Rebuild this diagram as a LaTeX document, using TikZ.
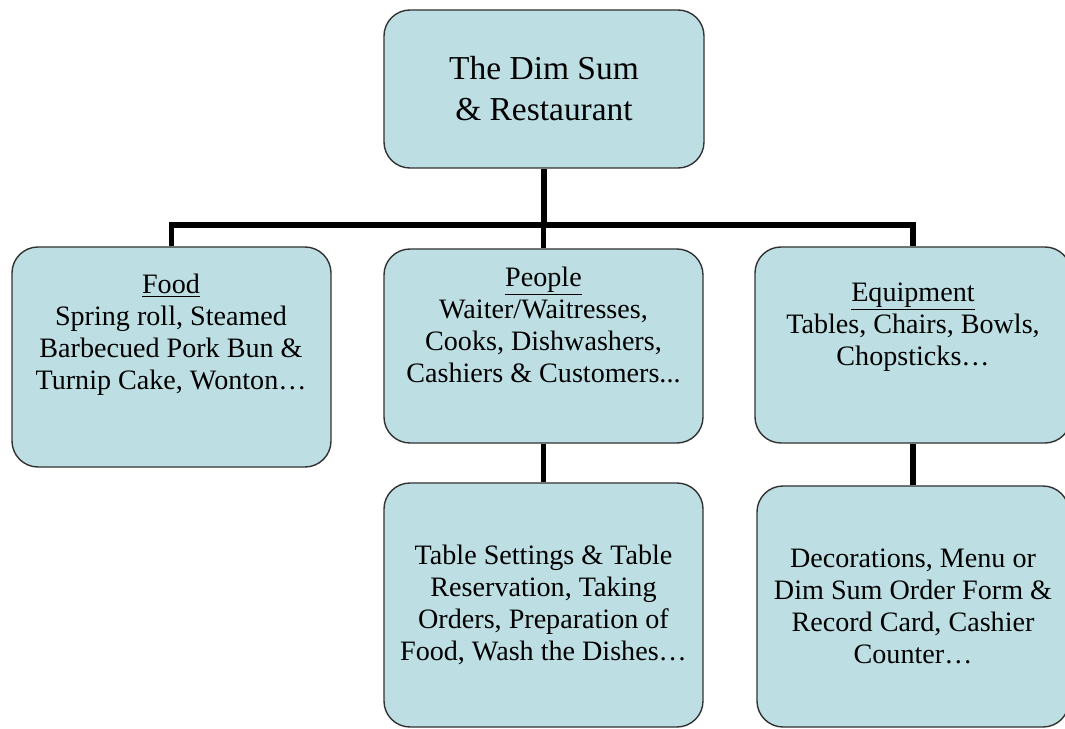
\documentclass[tikz,border=0pt]{standalone}
\usepackage{fontspec}
\setmainfont{Liberation Serif}
\usetikzlibrary{backgrounds}
\definecolor{cardblue}{RGB}{189,223,227}
\definecolor{cardline}{RGB}{50,50,50}
\tikzset{
  card/.style={draw=cardline, line width=1pt, fill=cardblue, rounded corners=6.5mm, inner sep=0pt},
  cardtext/.style={align=center, inner sep=0pt, font=\fontsize{20}{22.8}\selectfont},
  link/.style={line width=3.6pt}
}

\begin{document}
\begin{tikzpicture}[x=0.25mm,y=-0.25mm]
			\useasboundingbox (0,0) rectangle (1065,729);
			% boxes
			\node [card, minimum width=80mm, minimum height=39.5mm] (top) at (544,89) {};
			\node [card, minimum width=79.75mm, minimum height=55mm] (food) at (171.5,357) {};
			\node [card, minimum width=79.75mm, minimum height=48.5mm] (people) at (543.5,346) {};
			\node [card, minimum width=79mm, minimum height=49mm] (equip) at (913,345) {};
			\node [card, minimum width=79.75mm, minimum height=61mm] (tasks) at (543.5,605) {};
			\node [card, minimum width=78mm, minimum height=60.25mm] (items) at (913,606.5) {};
			%
			\node [cardtext, font=\fontsize{23.8}{29.2}\selectfont] (toptxt) at (top.center) {The Dim Sum\\\& Restaurant};
			\node [cardtext] (foodtxt) at (171,335) {\underline{Food}\\Spring roll, Steamed\\Barbecued Pork Bun \&\\Turnip Cake, Wonton\dots};
			\node [cardtext] (peopletxt) at (543.5,325) {\underline{People}\\Waiter/Waitresses,\\Cooks, Dishwashers,\\Cashiers \& Customers...};
			\node [cardtext] (equiptxt) at (913,327) {\underline{Equipment}\\Tables, Chairs, Bowls,\\Chopsticks\dots};
			\node [cardtext] (taskstxt) at (tasks.center) {Table Settings \& Table\\Reservation, Taking\\Orders, Preparation of\\Food, Wash the Dishes\dots};
			\node [cardtext] (itemstxt) at (items.center) {Decorations, Menu or\\Dim Sum Order Form \&\\Record Card, Cashier\\Counter\dots};
			%
			\coordinate (bus) at (544,225);
			\begin{scope}[on background layer]
				\draw [link] (top.south) -- (bus);
				\draw [link] (food.north) -- (food.north |- bus) -- (equip.north |- bus) -- (equip.north);
				\draw [link] (people.north) -- (people.north |- bus);
				\draw [link] (people.south) -- (tasks.north);
				\draw [link] (equip.south) -- (items.north);
			\end{scope}
		\end{tikzpicture}
\end{document}
